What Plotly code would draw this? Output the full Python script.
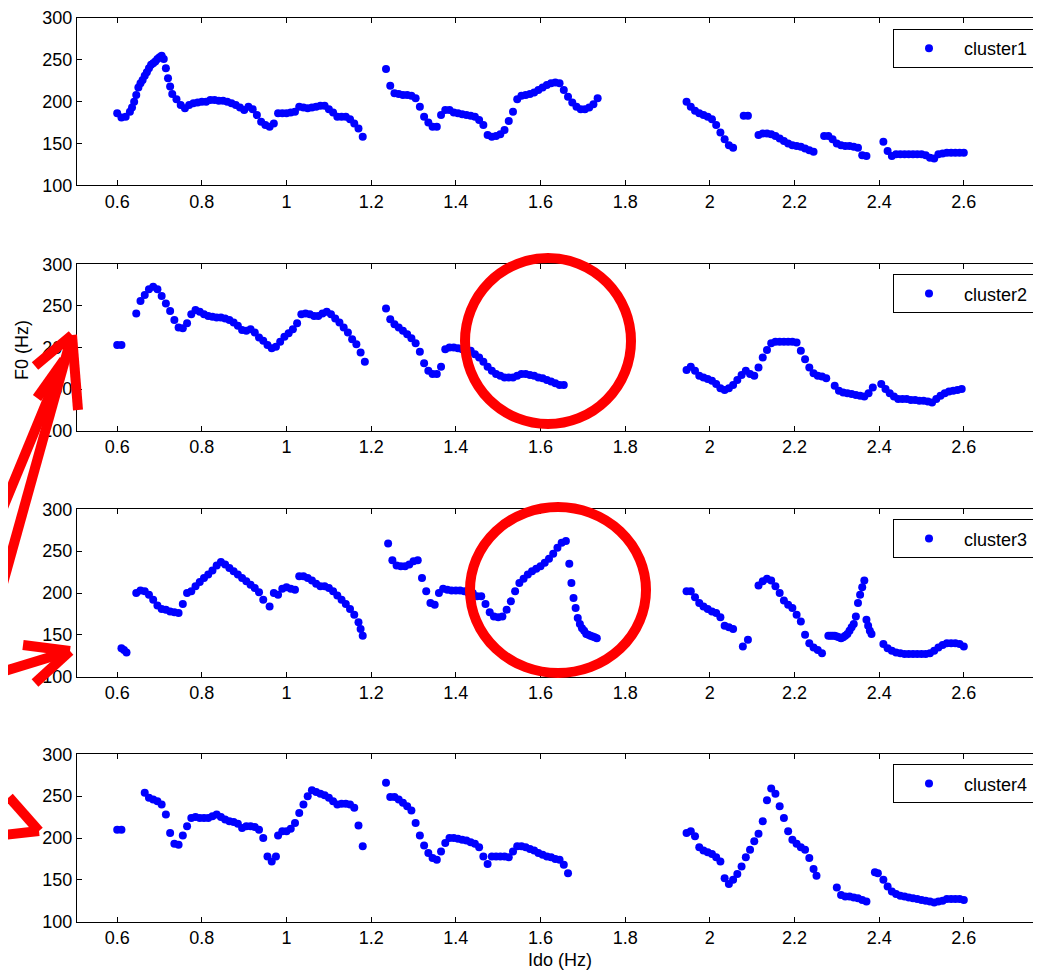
import plotly.graph_objects as go

# ---------------- data: F0 contours, segments = (start time, frame step, F0 values) ----------------
cluster_names = ["cluster1", "cluster2", "cluster3", "cluster4"]

cluster1_segments = [
    (0.60, 0.01, [186, 181, 182, 188, 200, 217, 226, 235, 244, 248, 253, 251, 228, 209, 203, 196, 192, 196, 198, 199,
                  200, 200, 202, 202, 201, 201, 200, 198, 196, 193, 190, 194, 191, 184, 176, 172, 170, 174, 186, 186,
                  186, 187, 188, 194, 193, 192, 193, 194, 195, 195, 191, 187, 182, 182, 182, 179, 174, 168, 158]),
    (0.635, 0.01, [193, 208, 222, 231, 240, 246, 251, 255, 240, 218]),
    (1.235, 0.01, [239, 219, 210, 209, 208, 208, 207, 204, 194, 182, 175, 170, 170, 184, 190, 190, 187, 186, 185, 184,
                   183, 182, 178, 172, 160, 158, 159, 161, 166, 177, 188, 203, 207, 208, 209, 211, 214, 217, 220, 222,
                   223, 222, 214, 206, 199, 194, 191, 191, 193, 197, 204]),
    (1.945, 0.01, [200, 194, 189, 186, 184, 182, 179, 172, 163, 155, 148, 145]),
    (2.08, 0.01, [183, 183]),
    (2.115, 0.01, [160, 162, 162, 161, 159, 156, 153, 150, 148, 147, 146, 144, 142, 140]),
    (2.27, 0.01, [159, 159, 155, 150, 148, 147, 147, 146, 145, 136, 135]),
    (2.41, 0.01, [152, 141, 135, 137, 137, 137, 137, 137, 137, 137, 136, 133, 132, 137, 138, 139, 139, 139, 139, 139]),
]

cluster2_segments = [
    (0.60, 0.01, [203, 203]),
    (0.645, 0.01, [241, 256, 263, 270, 273, 270, 262, 253, 244, 233, 224, 223, 229, 240, 245, 243, 240, 238, 237, 236,
                   236, 235, 233, 230, 226, 221, 220, 222, 218, 212, 208, 203, 199, 201, 207, 213, 217, 222, 229, 240,
                   241, 240, 238, 238, 241, 243, 240, 235, 230, 224, 218, 210, 204, 194, 183]),
    (1.235, 0.01, [247, 234, 228, 224, 220, 216, 211, 205, 195, 181, 172, 168, 168, 177, 198, 200, 200, 199, 198, 198,
                   196, 192, 188, 183, 177, 172, 168, 166, 164, 164, 164, 166, 168, 168, 167, 166, 164, 163, 161, 159,
                   157, 155, 155]),
    (1.945, 0.01, [173, 177, 172, 166, 164, 162, 160, 156, 151, 149, 151, 155, 161, 167, 172, 168, 166, 176, 188, 197,
                   205, 207, 207, 207, 207, 207, 206, 196, 186, 176, 169, 166, 165, 163]),
    (2.295, 0.01, [154, 148, 146, 145, 144, 143, 142, 141, 145, 152]),
    (2.405, 0.01, [156, 150, 145, 141, 138, 138, 138, 137, 137, 136, 136, 135, 134, 138, 142, 145, 147, 148, 149, 150]),
]

cluster3_segments = [
    (0.61, 0.006, [134, 132, 129]),
    (0.645, 0.01, [200, 203, 202, 198, 192, 185, 181, 180, 178, 177, 176, 187, 200, 202, 208, 213, 218, 222, 227, 233,
                   237, 234, 230, 226, 222, 218, 214, 210, 206, 201, 192]),
    (0.96, 0.01, [184, 200, 198, 205, 207, 205, 204, 220, 220, 218, 215, 211, 208, 208, 206, 202, 197, 192, 187, 181,
                  174, 165, 149]),
    (1.175, 0.01, [157]),
    (1.24, 0.01, [259, 239, 233, 232, 232, 234, 238, 239, 218, 202, 188, 186, 200, 205, 204, 203, 203, 203, 202, 200,
                  200, 196, 196, 187, 177, 172, 171, 172, 180, 190, 202, 212, 217, 222, 226, 229, 232, 236, 241, 247,
                  254, 260, 262]),
    (1.668, 0.005, [235, 212, 194, 182, 170, 163, 158, 155, 151, 150, 149, 148, 147, 146]),
    (1.945, 0.01, [202, 202, 195, 188, 184, 181, 178, 176, 171, 161, 159, 157]),
    (2.078, 0.012, [136, 144]),
    (2.115, 0.01, [209, 214, 217, 215, 208, 200, 191, 186, 182, 174, 166, 150, 140, 135, 132, 128]),
    (2.28, 0.005, [149, 149, 149, 149, 148, 147, 146, 147, 149, 151, 155, 159, 163, 172, 188, 198, 207, 215]),
    (2.37, 0.004, [168, 161, 155, 151]),
    (2.41, 0.01, [139, 134, 131, 129, 128, 127, 127, 127, 127, 127, 127, 128, 131, 135, 138, 140, 140, 140, 139, 136]),
]

cluster4_segments = [
    (0.60, 0.01, [210, 210]),
    (0.665, 0.01, [254, 248, 246, 244, 240, 228, 206, 193, 192, 203, 214, 224, 225, 224, 224, 224, 226, 228, 225, 222,
                   220, 219, 217, 212, 214, 214, 213, 210, 200, 178, 172, 178]),
    (0.98, 0.01, [203, 208, 208, 211, 218, 230, 240, 250, 257, 255, 253, 251, 248, 244, 240, 241, 241, 240, 236, 215,
                  190]),
    (1.235, 0.01, [266, 249, 249, 246, 242, 238, 233, 218, 203, 191, 182, 176, 174, 184, 194, 200, 200, 199, 198, 197,
                   195, 193, 189, 178, 169, 178, 178, 178, 178, 177, 184, 190, 190, 189, 187, 185, 182, 180, 178, 177,
                   175, 174, 168, 158]),
    (1.945, 0.01, [206, 208, 202, 189, 185, 183, 181, 177, 172, 152, 145, 150, 157, 166, 177, 186, 196, 205, 220, 245,
                   259, 253, 238, 224, 208, 198, 193, 189, 186, 176, 163]),
    (2.252, 0.01, [155]),
    (2.30, 0.01, [141, 132, 130, 130, 129, 128, 126, 124]),
    (2.39, 0.007, [159, 158]),
    (2.41, 0.01, [150, 142, 136, 133, 131, 130, 129, 128, 127, 126, 125, 124, 123, 124, 125, 127, 127, 127, 127, 126]),
]

x_tick_vals = [0.6, 0.8, 1.0, 1.2, 1.4, 1.6, 1.8, 2.0, 2.2, 2.4, 2.6]
x_tick_text = ["0.6", "0.8", "1", "1.2", "1.4", "1.6", "1.8", "2", "2.2", "2.4", "2.6"]
y_tick_vals = [100, 150, 200, 250, 300]
y_label = "F0 (Hz)"
x_label = "Ido (Hz)"

all_segments = [cluster1_segments, cluster2_segments, cluster3_segments, cluster4_segments]


def expand(segments):
    xs, ys = [], []
    for t0, dt, vals in segments:
        for i, v in enumerate(vals):
            xs.append(round(t0 + i * dt, 4))
            ys.append(v)
    return xs, ys


# ---------------- layout geometry ----------------
# The page body has an 8px margin, so the figure is drawn 8px smaller and all
# page-pixel positions are converted to figure pixels by subtracting 8.
OFF = 8
W, H = 1041 - OFF, 971 - OFF
PAGE_LEFT, PAGE_RIGHT, PAGE_TOP, PAGE_BOTTOM = 77, 1040, 18, 922
ML = PAGE_LEFT - OFF
MT = PAGE_TOP - OFF
MR = W - (PAGE_RIGHT - OFF)
MB = H - (PAGE_BOTTOM - OFF)
PW = W - ML - MR
PH = H - MT - MB


def X(px):  # page pixel -> paper x
    return (px - OFF - ML) / PW


def Y(py):  # page pixel -> paper y
    return (H - MB - (py - OFF)) / PH


panel_px = [(18, 185.3), (264.3, 430.7), (509.3, 676.7), (754.3, 921.7)]
legend_top_px = [29, 274.3, 519.3, 764.3]

FONT = "Liberation Sans, Arial, Helvetica, sans-serif"

fig = go.Figure()
layout = dict(
    width=W, height=H,
    margin=dict(l=ML, r=MR, t=MT, b=MB, autoexpand=False),
    paper_bgcolor="white", plot_bgcolor="white",
    font=dict(family=FONT, size=18, color="black"),
    showlegend=True,
)

for k in range(4):
    xs, ys = expand(all_segments[k])
    lname = "legend" if k == 0 else f"legend{k + 1}"
    fig.add_trace(go.Scatter(
        x=xs, y=ys, mode="markers", name=cluster_names[k],
        marker=dict(color="#0000ff", size=8, line=dict(width=0)),
        xaxis=f"x{k + 1}", yaxis=f"y{k + 1}", legend=lname,
    ))
    top, bot = panel_px[k]
    axis_common = dict(showline=True, linecolor="black", linewidth=1, mirror="ticks",
                       ticks="inside", ticklen=5, tickcolor="black", showgrid=False,
                       zeroline=False, automargin=False,
                       tickfont=dict(family=FONT, size=18, color="black"))
    layout[f"xaxis{k + 1}"] = dict(domain=[0, 1], anchor=f"y{k + 1}", range=[0.505, 2.78],
                                   tickvals=x_tick_vals, ticktext=x_tick_text, **axis_common)
    layout[f"yaxis{k + 1}"] = dict(domain=[Y(bot), Y(top)], anchor=f"x{k + 1}", range=[100, 300],
                                   tickvals=y_tick_vals, **axis_common)
    layout[lname] = dict(x=X(893), xanchor="left", y=Y(legend_top_px[k]), yanchor="top",
                         bgcolor="white", bordercolor="black", borderwidth=1,
                         font=dict(family=FONT, size=18, color="black"), itemwidth=60)

fig.update_layout(**layout)

# axis labels
fig.add_annotation(x=X(22), y=Y(350), xref="paper", yref="paper", text=y_label, textangle=-90,
                   xanchor="center", yanchor="middle", showarrow=False,
                   font=dict(family=FONT, size=18, color="black"))
fig.add_annotation(x=X(560), y=Y(960), xref="paper", yref="paper", text=x_label,
                   xanchor="center", yanchor="middle", showarrow=False,
                   font=dict(family=FONT, size=18, color="black"))

# red hand-drawn highlight marks (page-pixel coordinates of the overlay)
RED = "#ff0000"
for (x0, y0, x1, y1) in [(465, 258, 631, 424), (470, 507, 646, 673)]:
    fig.add_shape(type="circle", xref="paper", yref="paper", x0=X(x0), x1=X(x1), y0=Y(y1), y1=Y(y0),
                  line=dict(color=RED, width=10))

strokes = [
    ((-5, 612), (72, 335)), ((72, 335), (35, 366)), ((72, 335), (78, 410)),
    ((-5, 527), (64, 360)), ((64, 360), (37, 398)),
    ((-5, 674), (70, 651)), ((70, 651), (23, 645)), ((70, 651), (35, 683)),
    ((-5, 836), (39, 831)), ((39, 831), (9, 797)),
]
for (a, b) in strokes:
    fig.add_shape(type="line", xref="paper", yref="paper", x0=X(a[0]), y0=Y(a[1]), x1=X(b[0]), y1=Y(b[1]),
                  line=dict(color=RED, width=10))

fig.write_html("out.html")
